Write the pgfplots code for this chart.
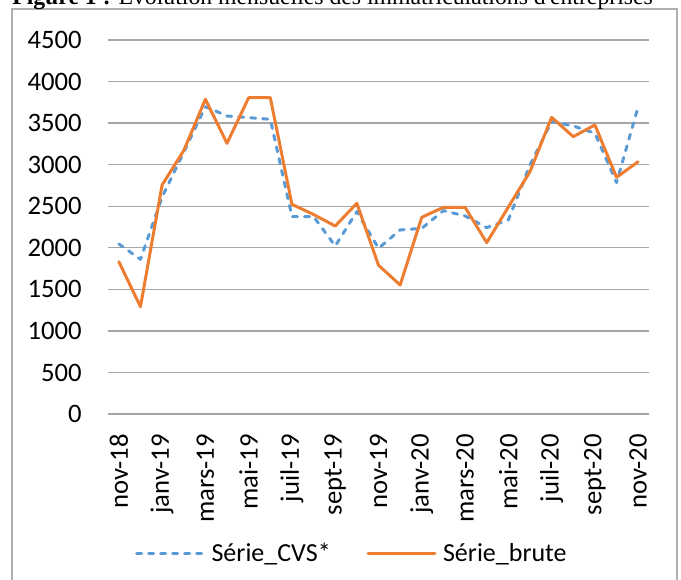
\documentclass[border=0pt]{standalone}
\usepackage{fontspec}
\setmainfont{Carlito}
\newfontfamily\titlefont{Liberation Serif}
\usepackage{pgfplots}
\pgfplotsset{compat=1.18}
\definecolor{cvsblue}{HTML}{5B9BD5}
\definecolor{bruteorange}{HTML}{ED7D31}
\definecolor{gridgray}{RGB}{166,166,166}
\definecolor{boxgray}{RGB}{175,175,175}

\pgfplotstableread{
x cvs brute
0 2046 1833
1 1861 1291
2 2610 2756
3 3150 3170
4 3698 3787
5 3586 3257
6 3566 3806
7 3546 3806
8 2375 2523
9 2375 2400
10 2022 2262
11 2435 2535
12 1994 1790
13 2214 1552
14 2234 2367
15 2447 2487
16 2383 2487
17 2242 2062
18 2335 2490
19 2996 2916
20 3518 3570
21 3466 3337
22 3378 3478
23 2784 2848
24 3698 3036
}\datatable

\begin{document}
\begin{tikzpicture}
\useasboundingbox (0pt,0pt) rectangle (510.75pt,434.25pt);
\clip (0pt,0pt) rectangle (510.75pt,434.25pt);
\draw[boxgray, line width=0.8pt] (9pt,-22pt) -- (9pt,427.5pt) -- (507.75pt,427.5pt) -- (507.75pt,-22pt);
\node[anchor=base west, inner sep=0pt, font=\titlefont\fontsize{17.8}{21}\selectfont] at (9pt,430.5pt) {\textbf{Figure 1 :} Évolution mensuelles des immatriculations d'entreprises};
\begin{axis}[
  at={(81pt,123.75pt)}, anchor=south west,
  scale only axis, width=405.75pt, height=280.5pt,
  xmin=-0.5, xmax=24.5, ymin=0, ymax=4500,
  ytick={0,500,...,4500},
  xtick={0,2,...,24},
  xticklabels={nov-18,janv-19,mars-19,mai-19,juil-19,sept-19,nov-19,janv-20,mars-20,mai-20,juil-20,sept-20,nov-20},
  axis line style={draw=none},
  major tick length=0pt,
  ymajorgrids, grid style={gridgray, line width=1pt},
  ticklabel style={font=\fontsize{20}{24}\selectfont},
  /pgf/number format/assume math mode=true,
  /pgf/number format/1000 sep={},
  yticklabel style={anchor=east, inner sep=0pt, xshift=-19.5pt},
  xticklabel style={rotate=90, anchor=east, inner sep=0pt},
  xticklabel shift=15pt,
  legend columns=2,
  legend image code/.code={\draw[#1] (0pt,0pt) -- (50pt,0pt);},
  legend style={at={(axis description cs:0.449,-0.372)}, anchor=center, draw=none, fill=none,
    inner sep=0pt, font=\fontsize{19.5}{23}\selectfont,
    nodes={inner sep=0pt},
    /tikz/every odd column/.style={column sep=5pt},
    /tikz/every even column/.style={column sep=27pt}},
]
\addplot[cvsblue, line width=2.25pt, line cap=round, line join=round, dash pattern=on 3.75pt off 5.25pt] table[x=x,y=cvs]{\datatable};
\addlegendentry{Série\_CVS*}
\addplot[bruteorange, line width=2.25pt, line cap=round, line join=round] table[x=x,y=brute]{\datatable};
\addlegendentry{Série\_brute}
\end{axis}
\end{tikzpicture}
\end{document}
